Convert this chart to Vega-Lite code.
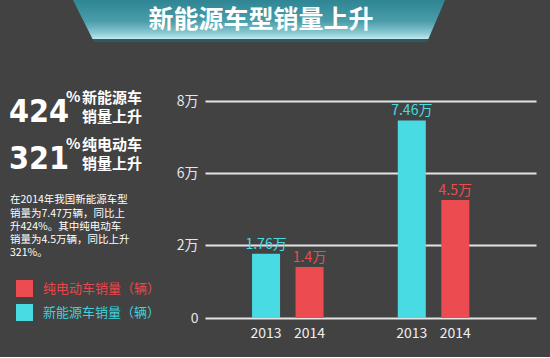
{
  "$schema": "https://vega.github.io/schema/vega-lite/v6.json",
  "background": "#424242",
  "padding": {"left": 0, "top": 0, "right": 14, "bottom": 16},
  "spacing": 0,
  "config": {
    "view": {"stroke": null},
    "font": "Noto Sans CJK SC",
    "concat": {"spacing": 0},
    "axis": {"labelFont": "Noto Sans CJK SC"},
    "legend": {"labelFont": "Noto Sans CJK SC"}
  },
  "datasets": {
    "销量": [
      {"组": "第一组", "年份": "2013", "类别": "新能源车销量（辆）", "销量": 1.76},
      {"组": "第一组", "年份": "2014", "类别": "纯电动车销量（辆）", "销量": 1.4},
      {"组": "第二组", "年份": "2013", "类别": "新能源车销量（辆）", "销量": 7.46},
      {"组": "第二组", "年份": "2014", "类别": "纯电动车销量（辆）", "销量": 4.5}
    ],
    "增幅": [
      {"车型": "新能源车", "增幅": 424, "说明": "新能源车\n销量上升"},
      {"车型": "纯电动车", "增幅": 321, "说明": "纯电动车\n销量上升"}
    ],
    "段落": [
      {"文字": "在2014年我国新能源车型\n销量为7.47万辆，同比上\n升424%。其中纯电动车\n销量为4.5万辆，同比上升\n321%。"}
    ],
    "标题": [{"文字": "新能源车型销量上升"}]
  },
  "vconcat": [
    {
      "width": 550,
      "height": 52,
      "data": {"name": "标题"},
      "layer": [
        {
          "mark": {"type": "point", "shape": "M-1.092,-0.1405L0.919,-0.1405L0.822,0.0865L-0.978,0.0865Z", "size": 136900, "filled": true, "opacity": 1, "fill": "#2a5a63", "strokeWidth": 0},
          "encoding": {}
        },
        {
          "mark": {
            "type": "point",
            "shape": "M-1.092,-0.1405L0.919,-0.1405L0.829,0.0703L-0.986,0.0703Z",
            "size": 136900,
            "filled": true,
            "opacity": 1,
            "strokeWidth": 0,
            "fill": {
              "gradient": "linear", "x1": 0, "y1": 0, "x2": 0, "y2": 1,
              "stops": [
                {"offset": 0, "color": "#2f8593"},
                {"offset": 0.55, "color": "#4b9daa"},
                {"offset": 0.85, "color": "#8ccad2"},
                {"offset": 1, "color": "#c3e9ee"}
              ]
            }
          },
          "encoding": {}
        },
        {
          "mark": {"type": "text", "fontSize": 25, "fontWeight": "bold", "color": "#ffffff", "baseline": "middle", "align": "center", "dx": -14, "dy": -6},
          "encoding": {"text": {"field": "文字", "type": "nominal"}}
        }
      ]
    },
    {
      "hconcat": [
        {
          "width": 175,
          "height": 266,
          "layer": [
            {
              "data": {"name": "增幅"},
              "mark": {"type": "text", "align": "left", "baseline": "middle", "fontSize": 32, "fontWeight": "bold", "font": "DejaVu Sans Condensed, Liberation Sans Narrow, Liberation Sans", "color": "#ffffff", "dx": -78.5},
              "encoding": {
                "y": {"field": "车型", "type": "nominal", "scale": {"type": "point", "domain": ["新能源车", "纯电动车"], "range": [60, 107], "padding": 0}, "axis": null},
                "text": {"field": "增幅", "type": "quantitative"}
              }
            },
            {
              "data": {"name": "增幅"},
              "mark": {"type": "text", "align": "left", "baseline": "middle", "fontSize": 15, "fontWeight": "bold", "color": "#ffffff", "dx": -21.5, "dy": -15, "text": "%"},
              "encoding": {"y": {"field": "车型", "type": "nominal"}}
            },
            {
              "data": {"name": "增幅"},
              "mark": {"type": "text", "align": "left", "baseline": "middle", "fontSize": 15, "fontWeight": "bold", "color": "#ffffff", "dx": -5.5, "dy": -14, "lineBreak": "\n", "lineHeight": 19},
              "encoding": {"y": {"field": "车型", "type": "nominal"}, "text": {"field": "说明", "type": "nominal"}}
            },
            {
              "data": {"name": "段落"},
              "mark": {"type": "text", "align": "left", "baseline": "middle", "fontSize": 10.5, "color": "#ffffff", "dx": -77.5, "dy": 15.3, "lineBreak": "\n", "lineHeight": 13.3},
              "encoding": {"text": {"field": "文字", "type": "nominal"}}
            }
          ]
        },
        {
          "width": 331,
          "height": 266,
          "data": {"name": "销量"},
          "encoding": {
            "x": {"field": "组", "type": "nominal", "axis": null, "scale": {"paddingInner": 0.403, "paddingOuter": 0.337, "align": 0.4}},
            "xOffset": {"field": "年份", "type": "nominal", "scale": {"paddingInner": 0.356, "paddingOuter": 0.178}},
            "y": {
              "field": "销量", "type": "quantitative",
              "scale": {"domain": [0, 2, 6, 8], "range": [266, 193, 121, 49], "nice": false, "zero": false},
              "axis": {
                "values": [0, 2, 6, 8],
                "labelExpr": "datum.value == 0 ? '0' : datum.value + '万'",
                "title": null, "domain": false, "ticks": false,
                "grid": true, "gridColor": "#e4e4e4", "gridWidth": 2,
                "labelColor": "#e6e6e6", "labelFontSize": 14, "labelPadding": 7,
                "minExtent": 30, "maxExtent": 30
              }
            }
          },
          "layer": [
            {
              "mark": {"type": "bar"},
              "encoding": {
                "color": {
                  "field": "类别", "type": "nominal",
                  "scale": {"domain": ["纯电动车销量（辆）", "新能源车销量（辆）"], "range": ["#ec4c50", "#48dbe4"]},
                  "legend": {
                    "orient": "none", "legendX": 16, "legendY": 280, "title": null,
                    "symbolType": "square", "symbolSize": 289, "symbolStrokeWidth": 0, "symbolOpacity": 1,
                    "labelFontSize": 13, "labelOffset": 10, "rowPadding": 7, "padding": 0, "labelLimit": 300,
                    "labelColor": {"expr": "datum.value == '纯电动车销量（辆）' ? '#e8484c' : '#40d0da'"}
                  }
                }
              }
            },
            {
              "mark": {"type": "text", "baseline": "alphabetic", "align": "center", "dy": -5, "fontSize": 14},
              "encoding": {
                "color": {"field": "类别", "type": "nominal"},
                "text": {"value": {"expr": "datum['销量'] + '万'"}}
              }
            },
            {
              "mark": {"type": "text", "baseline": "middle", "align": "center", "dy": 16, "fontSize": 14, "color": "#eeeeee"},
              "encoding": {"y": {"datum": 0}, "text": {"field": "年份", "type": "nominal"}}
            }
          ]
        }
      ]
    }
  ]
}
